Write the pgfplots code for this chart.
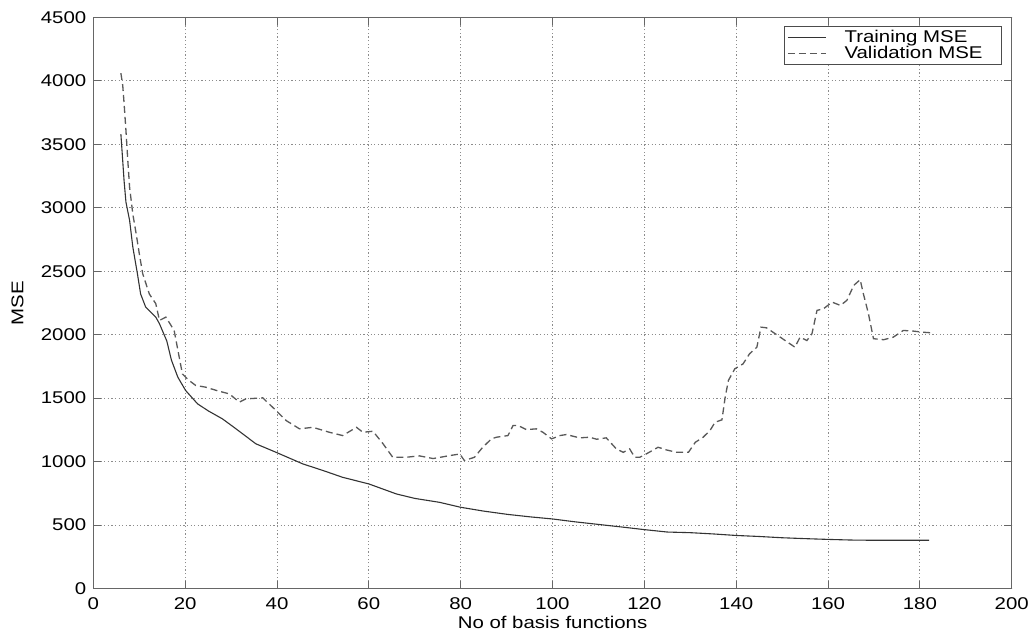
\documentclass[border=0pt]{standalone}
\usepackage{fontspec}
\setmainfont{Liberation Sans}[FakeStretch=1.2]
\usepackage{pgfplots}
\pgfplotsset{compat=1.18}
\begin{document}
\begin{tikzpicture}
\begin{axis}[
  name=ax,
  scale only axis,
  width=459pt, height=285.5pt,
  xmin=0, xmax=200, ymin=0, ymax=4500,
  xtick={0,20,...,200}, ytick={0,500,...,4500},
  /pgf/number format/assume math mode=true,
  /pgf/number format/1000 sep={},
  font=\fontsize{8.5}{10}\selectfont,
  tick align=inside,
  major tick length=4pt,
  axis line style={black!60, line width=0.6pt},
  tick style={black!60, line width=0.5pt},
  grid=major,
  major grid style={black!45, line width=0.4pt, dash pattern=on 0.6pt off 1.2pt},
  xticklabel style={yshift=-1pt},
  xlabel={No of basis functions},
  ylabel={MSE},
  xlabel style={at={(axis description cs:0.5,-0.059)}, anchor=center},
  ylabel style={at={(axis description cs:-0.0826,0.5)}, anchor=center, rotate=0},
  legend style={at={(axis description cs:0.9895,0.985)}, anchor=north east,
    draw=black!70, line width=0.5pt, inner xsep=1.5pt, inner ysep=1.5pt, row sep=0pt,
    column sep=8pt,
    nodes={text height=6.4pt, text depth=1.6pt, inner ysep=0pt, inner xsep=1pt},
    font=\fontsize{8.5}{10}\selectfont},
  legend cell align=left,
  legend image code/.code={\draw[#1] (0pt,0pt) -- (19pt,0pt);},
]
\addplot[black!80, line width=0.55pt] coordinates {
(6,3580) (6.4,3370) (6.7,3210) (7.1,3045) (7.9,2900) (8.6,2690) (9.6,2480) (10.3,2320) (11.4,2217) (13.6,2138) (14.4,2086) (16,1950) (17,1800) (18.4,1665) (20.1,1560) (22.7,1455) (25,1400) (28.1,1337) (31,1260) (35.4,1140) (39.8,1073) (45.6,982) (50,930) (54.3,876) (60,824) (66,745) (70,710) (75.4,679) (80,640) (85,610) (90,585) (95,565) (100,548) (105,525) (110,505) (115,485) (120,464) (125,445) (130,440) (135,430) (140,418) (145,410) (150,400) (155,393) (160,387) (165,382) (170,380) (175,380) (182,380)
};
\addlegendentry{Training MSE}
\addplot[black!65, line width=0.65pt, dash pattern=on 3.5pt off 2pt] coordinates {
(6,4060) (6.4,3965) (6.7,3820) (7.1,3610) (7.5,3375) (7.9,3160) (8.6,2950) (9.3,2800) (10,2640) (10.75,2480) (12.2,2320) (13.6,2244) (14.4,2112) (15.8,2138) (17.6,2033) (18.7,1823) (19.4,1690) (20.8,1640) (22.3,1600) (24.5,1586) (27.4,1554) (29.6,1534) (31.8,1468) (33.2,1494) (36.9,1502) (39.8,1402) (42,1323) (44.9,1258) (47.8,1270) (51.4,1231) (54.3,1205) (57.3,1270) (58.7,1231) (60.9,1239) (63.1,1140) (65.2,1034) (68.1,1034) (71,1045) (74,1024) (77.6,1047) (79.8,1060) (80.2,1040) (80.8,1008) (83,1034) (84.8,1113) (86.7,1179) (87.8,1192) (90.3,1205) (91.4,1284) (92.5,1284) (94.3,1252) (96.5,1258) (97.9,1231) (99.8,1179) (101.6,1205) (103,1213) (105.9,1187) (108.1,1192) (109.6,1176) (111.7,1187) (113.9,1100) (115.4,1073) (116.8,1100) (117.9,1034) (119,1034) (120.4,1060) (123,1113) (124.8,1092) (127,1073) (129.6,1073) (131.1,1152) (132.8,1192) (134.3,1245) (135.4,1310) (136.9,1329) (137.6,1507) (138.3,1639) (139.7,1731) (141.5,1770) (142.9,1849) (144.5,1901) (145.4,2059) (146.6,2054) (149.6,1980) (152.8,1901) (153.9,1980) (155.4,1954) (156.5,2007) (157.6,2191) (159,2204) (160.9,2256) (162.7,2230) (164.1,2270) (165.6,2388) (167,2433) (167.7,2322) (168.8,2165) (169.9,1968) (172.1,1960) (174.2,1980) (176.4,2033) (178.6,2028) (180.4,2020) (182.3,2015)
};
\addlegendentry{Validation MSE\hspace*{7pt}}
\end{axis}
\pgfresetboundingbox
\path[use as bounding box] ([xshift=-46.65pt,yshift=-23.35pt]ax.south west) rectangle ([xshift=10.15pt,yshift=8.65pt]ax.north east);
\end{tikzpicture}
\end{document}
